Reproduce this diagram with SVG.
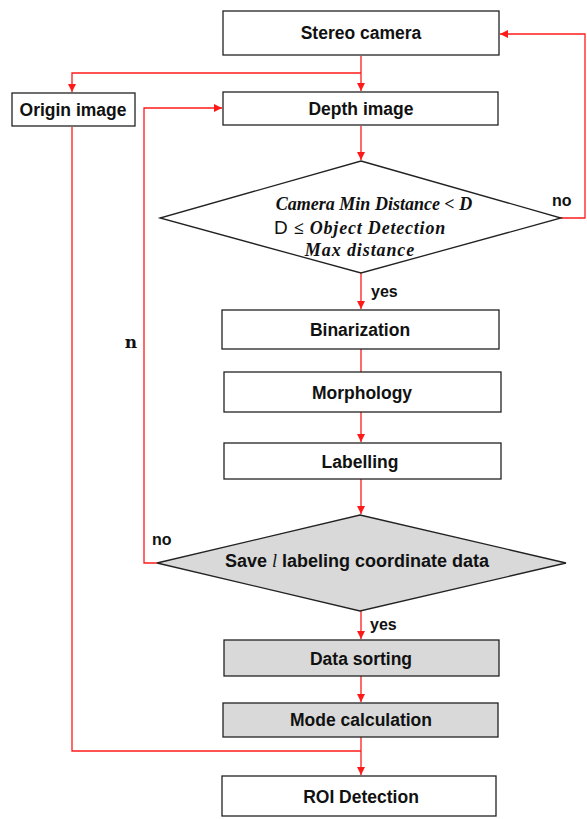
<svg xmlns="http://www.w3.org/2000/svg" width="587" height="819" viewBox="0 0 587 819">
<defs>
<marker id="ah" viewBox="0 0 10 10" refX="10" refY="5" markerWidth="8" markerHeight="8" markerUnits="userSpaceOnUse" orient="auto">
<path d="M0,0 L10,5 L0,10 z" fill="#ff1a1a"/>
</marker>
<style>
.box{fill:#fff;stroke:#222;stroke-width:1.3}
.gray{fill:#d9d9d9;stroke:#222;stroke-width:1.3}
.t{font-family:"Liberation Sans",Arial,sans-serif;font-weight:bold;font-size:17.5px;fill:#111;text-anchor:middle;dominant-baseline:central}
.m{font-family:"Liberation Serif","DejaVu Serif",serif;font-weight:bold;font-style:italic;font-size:18px;fill:#111;text-anchor:middle}
.lbl{font-family:"Liberation Sans",Arial,sans-serif;font-weight:bold;font-size:16px;fill:#111}
.c{fill:none;stroke:#ff1a1a;stroke-width:1.3}
</style>
</defs>
<rect width="587" height="819" fill="#fff"/>
<g id="connectors">
<path class="c" d="M361,56 V91" marker-end="url(#ah)"/>
<path class="c" d="M361,73 H72 V92" marker-end="url(#ah)"/>
<path class="c" d="M361,126 V160" marker-end="url(#ah)"/>
<path class="c" d="M561,218 H585 V34 H500" marker-end="url(#ah)"/>
<path class="c" d="M361,273 V309" marker-end="url(#ah)"/>
<path class="c" d="M361,349 V372"/>
<path class="c" d="M361,412 V442" marker-end="url(#ah)"/>
<path class="c" d="M361,479 V514" marker-end="url(#ah)"/>
<path class="c" d="M157,563 H144 V108 H222" marker-end="url(#ah)"/>
<path class="c" d="M361,611 V639" marker-end="url(#ah)"/>
<path class="c" d="M361,676 V702" marker-end="url(#ah)"/>
<path class="c" d="M361,737 V775" marker-end="url(#ah)"/>
<path class="c" d="M72,127 V751 H361"/>
<text class="lbl" x="552" y="206">no</text>
<text class="lbl" x="371" y="297">yes</text>
<text class="lbl" x="152" y="545">no</text>
<text class="lbl" x="370" y="630">yes</text>
<text x="131" y="348" style="font-family:'DejaVu Serif',serif;font-weight:bold;font-size:17px;fill:#111;text-anchor:middle">n</text>
</g>
<g id="stereo"><rect class="box" x="223" y="11" width="276" height="44"/><text class="t" x="361" y="33">Stereo camera</text></g>
<g id="origin"><rect class="box" x="12" y="93" width="123" height="33"/><text class="t" x="73" y="110">Origin image</text></g>
<g id="depth"><rect class="box" x="223" y="92" width="275" height="33"/><text class="t" x="361" y="109">Depth image</text></g>
<g id="cond1"><polygon class="box" points="361,161 561,218 361,273 160,218"/>
<text class="m" x="374" y="210">Camera Min Distance &lt; D</text>
<text class="m" x="360" y="234" style="letter-spacing:0.8px"><tspan style="font-family:'Liberation Sans',Arial,sans-serif;font-style:normal;font-weight:normal;font-size:19px">D</tspan> ≤ Object Detection</text>
<text class="m" x="360" y="256" style="letter-spacing:0.9px">Max distance</text>
</g>
<g id="binarization"><rect class="box" x="222" y="310" width="277" height="39"/><text class="t" x="360" y="330">Binarization</text></g>
<g id="morphology"><rect class="box" x="224" y="372" width="277" height="40"/><text class="t" x="362" y="393">Morphology</text></g>
<g id="labelling"><rect class="box" x="224" y="443" width="277" height="36"/><text class="t" x="360" y="462">Labelling</text></g>
<g id="cond2"><polygon class="gray" points="360,515 566,563 360,611 157,563"/>
<text class="t" x="357" y="561" style="font-size:18px">Save <tspan style="font-family:'Liberation Serif',serif;font-style:italic;font-weight:normal">l</tspan> labeling coordinate data</text>
</g>
<g id="sorting"><rect class="gray" x="224" y="640" width="275" height="36"/><text class="t" x="361" y="659">Data sorting</text></g>
<g id="mode"><rect class="gray" x="223" y="703" width="275" height="34"/><text class="t" x="361" y="720">Mode calculation</text></g>
<g id="roi"><rect class="box" x="222" y="776" width="274" height="40"/><text class="t" x="361" y="797">ROI Detection</text></g>
</svg>
